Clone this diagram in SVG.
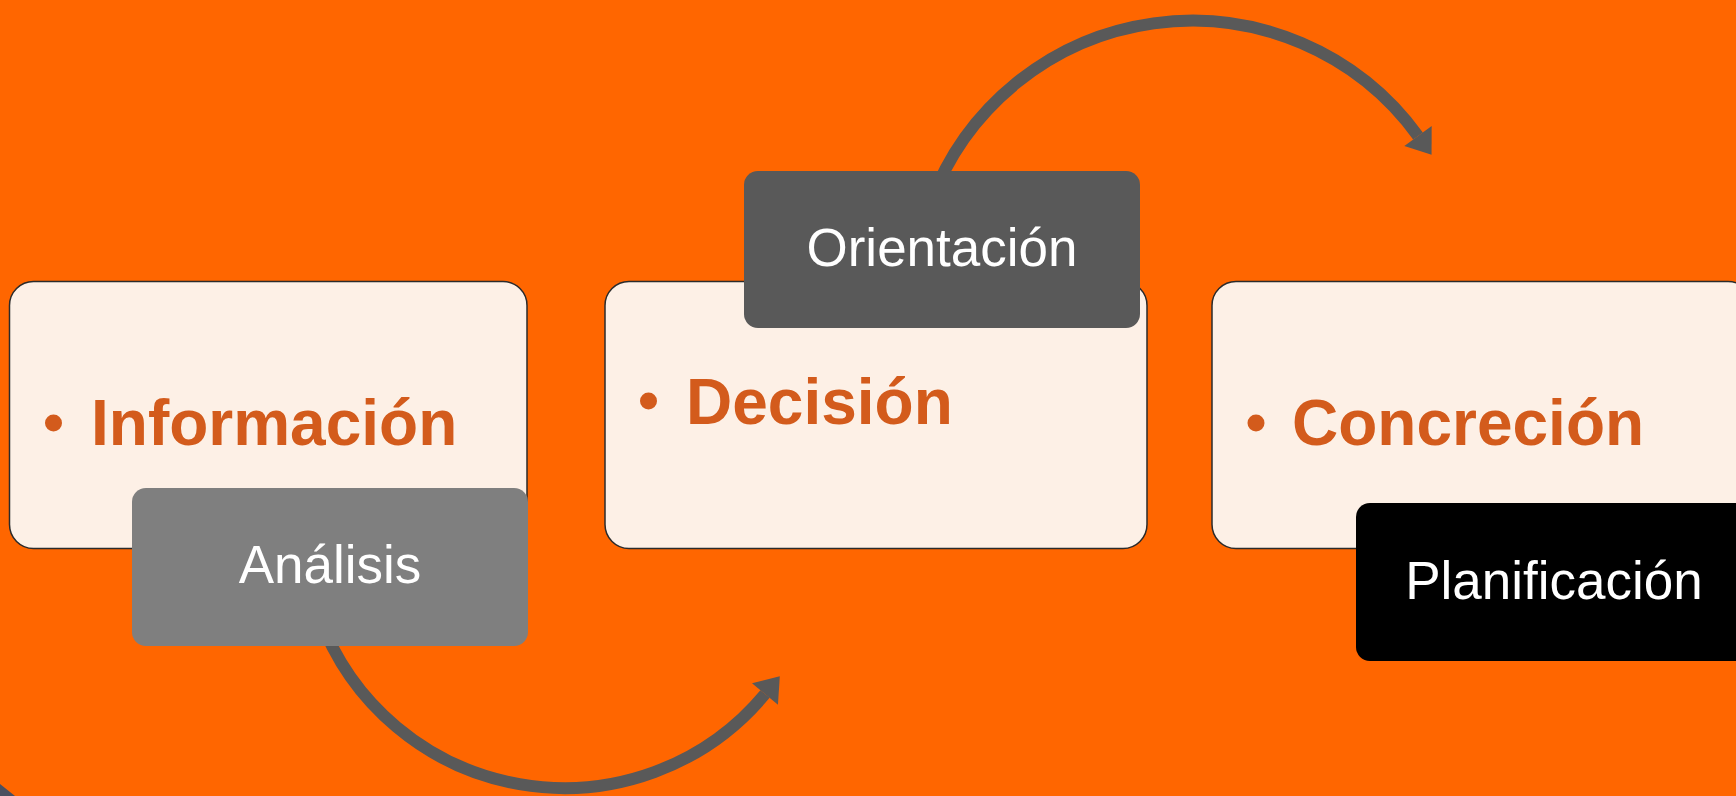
<svg xmlns="http://www.w3.org/2000/svg" width="1736" height="796" viewBox="0 0 1736 796">
  <style>
    .box { fill: #FDF0E6; stroke: #2b2b2b; stroke-width: 1.5; }
    .bold { font-family: "Liberation Sans", Arial, sans-serif; font-weight: bold; font-size: 64px; fill: #D35B1C; }
    .bullet { fill: #D35B1C; }
    .lbl { font-family: "Liberation Sans", Arial, sans-serif; font-size: 53px; fill: #FFFFFF; text-anchor: middle; }
    .arc { fill: none; stroke: #595959; stroke-width: 12; }
  </style>
  <defs>
    <marker id="head" markerUnits="userSpaceOnUse" markerWidth="30" markerHeight="40" viewBox="0 -16 22 32" refX="0" refY="0" orient="auto">
      <path d="M0,-13.5 L18.5,0 L0,13.5 Z" fill="#595959"/>
    </marker>
  </defs>
  <rect x="0" y="0" width="1736" height="796" fill="#FF6600"/>
  <polygon points="0,784 15,796 0,796" fill="#4B5060"/>

  <g id="connectors">
    <path class="arc" d="M930,204 A279,279 0 0 1 1418,136" marker-end="url(#head)"/>
    <path class="arc" d="M319,616 A261,261 0 0 0 765,694" marker-end="url(#head)"/>
  </g>

  <g id="node-informacion">
    <rect class="box" x="9.5" y="281.5" width="517.5" height="267" rx="24"/>
    <circle class="bullet" cx="53.5" cy="423" r="8.5"/>
    <text class="bold" x="91" y="445">Información</text>
  </g>
  <g id="node-analisis">
    <rect x="132" y="488" width="396" height="158" rx="14" fill="#7F7F7F"/>
    <text class="lbl" x="330" y="583">Análisis</text>
  </g>

  <g id="node-decision">
    <rect class="box" x="605" y="281.5" width="542" height="267" rx="24"/>
    <circle class="bullet" cx="648.5" cy="401" r="8.5"/>
    <text class="bold" x="686" y="424">Decisión</text>
  </g>
  <g id="node-orientacion">
    <rect x="744" y="171" width="396" height="157" rx="14" fill="#595959"/>
    <text class="lbl" x="942" y="266">Orientación</text>
  </g>

  <g id="node-concrecion">
    <rect class="box" x="1212" y="281.5" width="540" height="267" rx="24"/>
    <circle class="bullet" cx="1256" cy="423" r="8.5"/>
    <text class="bold" x="1292" y="445">Concreción</text>
  </g>
  <g id="node-planificacion">
    <rect x="1356" y="503" width="396" height="158" rx="14" fill="#000000"/>
    <text class="lbl" x="1554" y="599">Planificación</text>
  </g>
</svg>
